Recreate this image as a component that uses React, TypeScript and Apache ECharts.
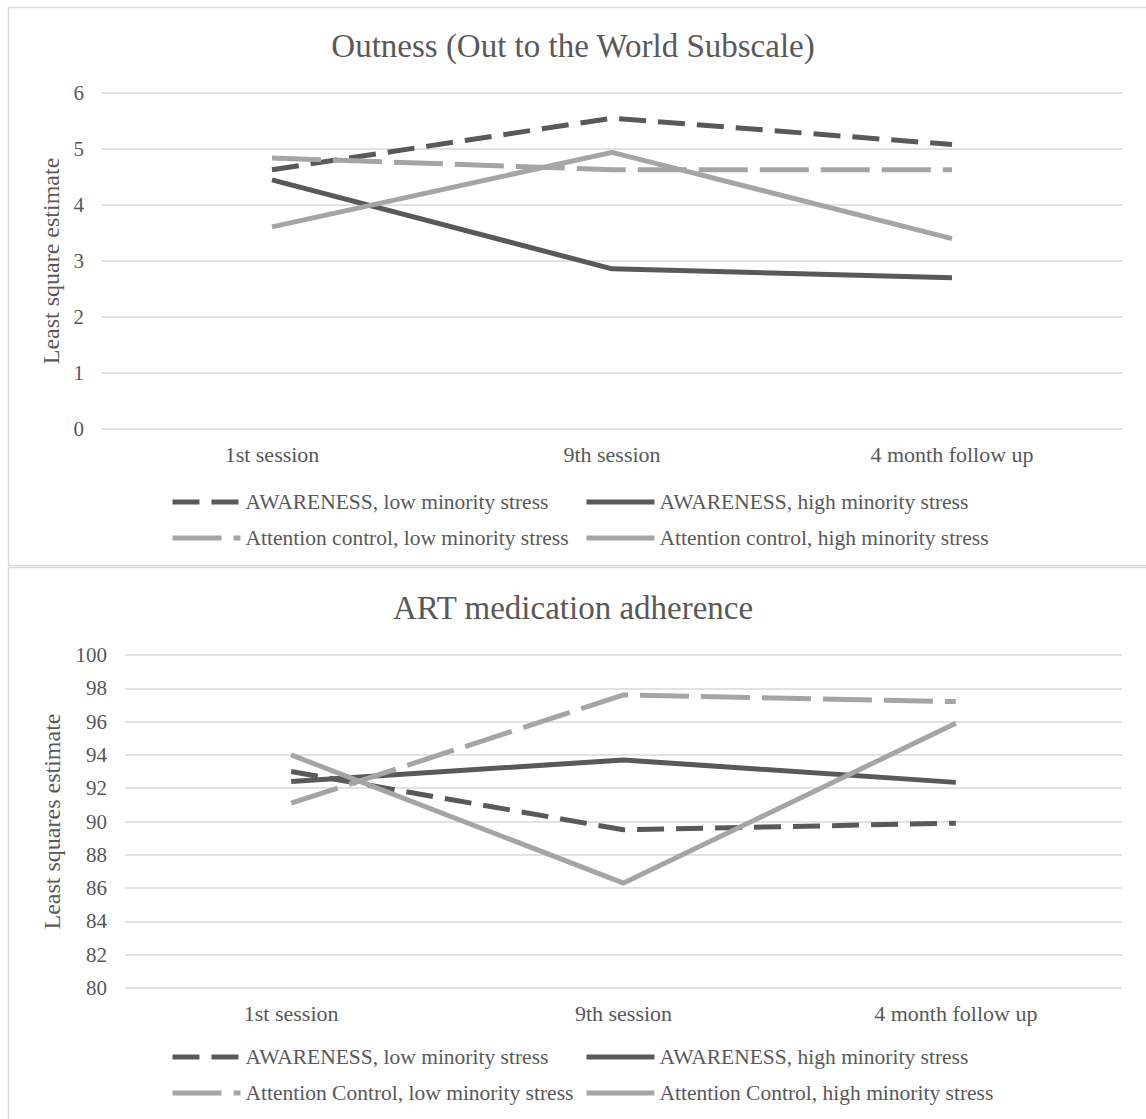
import React, { useEffect, useRef } from "react";
import * as echarts from "echarts";

const categories = ["1st session", "9th session", "4 month follow up"];

// Top panel: Outness (Out to the World Subscale)
const topTitle = "Outness (Out to the World Subscale)";
const topYName = "Least square estimate";
const topNames = [
  "AWARENESS, low minority stress",
  "AWARENESS, high minority stress",
  "Attention control, low minority stress",
  "Attention control, high minority stress",
];
const topAwLow = [4.63, 5.55, 5.08];
const topAwHigh = [4.45, 2.86, 2.7];
const topAcLow = [4.84, 4.63, 4.63];
const topAcHigh = [3.61, 4.94, 3.4];

// Bottom panel: ART medication adherence
const botTitle = "ART medication adherence";
const botYName = "Least squares estimate";
const botNames = [
  "AWARENESS, low minority stress",
  "AWARENESS, high minority stress",
  "Attention Control, low minority stress",
  "Attention Control, high minority stress",
];
const botAwLow = [93.0, 89.5, 89.9];
const botAwHigh = [92.4, 93.7, 92.35];
const botAcLow = [91.1, 97.6, 97.2];
const botAcHigh = [94.0, 86.3, 95.9];

const DARK = "#595959";
const LIGHT = "#a5a5a5";
const TEXT = "#595959";
const GRID = "#d9d9d9";
const FONT = "Liberation Serif";

const styles = [
  { color: DARK, type: [27, 12] as any },
  { color: DARK, type: "solid" as any },
  { color: LIGHT, type: [49, 12] as any },
  { color: LIGHT, type: "solid" as any },
];

export default function App() {
  const ref = useRef<HTMLDivElement>(null);
  useEffect(() => {
    if (!ref.current) return;
    const chart = echarts.init(ref.current, null, { renderer: "svg" });
    const topData = [topAwLow, topAwHigh, topAcLow, topAcHigh];
    const botData = [botAwLow, botAwHigh, botAcLow, botAcHigh];
    const mkSeries = (names: string[], data: number[][], idx: number) =>
      names.map((n, i) => ({
        type: "line",
        name: n,
        xAxisIndex: idx,
        yAxisIndex: idx,
        data: data[i],
        symbol: "none",
        showSymbol: false,
        lineStyle: { width: 5, color: styles[i].color, type: styles[i].type },
        itemStyle: { color: styles[i].color },
        z: 2 + i,
      }));
    const legendPos = [
      { left: 170, dy: 0 },
      { left: 584, dy: 0 },
      { left: 170, dy: 36 },
      { left: 584, dy: 36 },
    ];
    const mkLegends = (names: string[], top0: number) =>
      names.map((n, i) => ({
        data: [n],
        left: legendPos[i].left,
        top: top0 + legendPos[i].dy,
        padding: 0,
        itemWidth: 68,
        itemHeight: 14,
        itemGap: 0,
        selectedMode: false,
        itemStyle: { opacity: 0 },
        lineStyle: { width: 5 },
        textStyle: { fontSize: 21.5, color: TEXT, fontFamily: FONT, padding: [0, 0, 0, 0] },
      }));
    const xAxisCommon = {
      type: "category",
      data: categories,
      boundaryGap: true,
      axisLine: { show: false },
      axisTick: { show: false },
      axisLabel: { fontSize: 22, color: TEXT, fontFamily: FONT, margin: 14 },
    };
    const yAxisCommon = {
      type: "value",
      nameLocation: "middle",
      nameRotate: 90,
      nameTextStyle: { fontSize: 24, color: TEXT, fontFamily: FONT },
      axisLine: { show: false },
      axisTick: { show: false },
      axisLabel: { fontSize: 21, color: TEXT, fontFamily: FONT, margin: 18 },
      splitLine: { show: true, lineStyle: { color: GRID, width: 1.5 } },
    };
    chart.setOption({
      animation: false,
      backgroundColor: "#ffffff",
      title: [
        {
          text: topTitle,
          left: "center",
          top: 24,
          textStyle: { fontSize: 33, fontWeight: "normal", color: TEXT, fontFamily: FONT },
        },
        {
          text: botTitle,
          left: "center",
          top: 586,
          textStyle: { fontSize: 33, fontWeight: "normal", color: TEXT, fontFamily: FONT },
        },
      ],
      grid: [
        { left: 102, right: 24, top: 93, height: 336 },
        { left: 125, right: 24, top: 655, height: 333 },
      ],
      xAxis: [
        { ...xAxisCommon, gridIndex: 0 },
        { ...xAxisCommon, gridIndex: 1 },
      ],
      yAxis: [
        { ...yAxisCommon, gridIndex: 0, min: 0, max: 6, interval: 1, name: topYName, nameGap: 38 },
        { ...yAxisCommon, gridIndex: 1, min: 80, max: 100, interval: 2, name: botYName, nameGap: 61 },
      ],
      legend: [...mkLegends(topNames, 491), ...mkLegends(botNames, 1046)],
      series: [...mkSeries(topNames, topData, 0), ...mkSeries(botNames, botData, 1)],
      graphic: [
        {
          type: "rect",
          shape: { x: 8.5, y: 7.5, width: 1145, height: 558 },
          style: { fill: "none", stroke: GRID, lineWidth: 1.5 },
          silent: true,
        },
        {
          type: "rect",
          shape: { x: 8.5, y: 567.5, width: 1145, height: 600 },
          style: { fill: "none", stroke: GRID, lineWidth: 1.5 },
          silent: true,
        },
      ],
    });
    return () => chart.dispose();
  }, []);
  return (
    <div
      ref={ref}
      style={{ position: "absolute", left: 0, top: 0, width: 1146, height: 1119 }}
    />
  );
}
